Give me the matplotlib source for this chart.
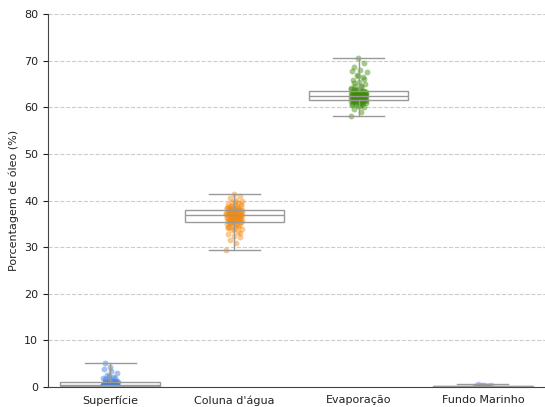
import numpy as np
import matplotlib
matplotlib.use("Agg")
import matplotlib.pyplot as plt

categories = ["Superfície", "Coluna d'água", "Evaporação", "Fundo Marinho"]
colors = ["#3b7bd9", "#f28a12", "#3b8b06", "#a070e8"]

superficie = [0.0, 0.05, 0.1, 0.1, 0.15, 0.2, 0.2, 0.25, 0.3, 0.3, 0.35, 0.4,
              0.45, 0.5, 0.5, 0.55, 0.6, 0.65, 0.7, 0.8, 0.9, 1.0, 1.1, 1.2,
              1.4, 1.6, 1.9, 2.2, 2.6, 3.0, 3.4, 5.2,
              0.05, 0.1, 0.2, 0.3, 0.4, 0.5, 0.6, 0.7, 0.9, 1.1, 1.3, 1.5,
              1.7, 2.0, 2.4, 0.15, 0.25, 0.35, 0.45, 4.2, 3.8,
              0.0, 0.0, 0.05, 0.1, 0.1, 0.2, 0.3, 0.4, 0.5, 0.6, 0.7, 0.75,
              0.15, 0.25, 0.35]
coluna = [29.4, 31.0, 31.6, 32.2, 32.5, 32.9, 33.3, 33.6, 33.8, 34.1, 34.3,
          34.5, 34.7, 34.9, 35.0, 35.2, 35.3, 35.5, 35.6, 35.7, 35.8, 35.9,
          36.0, 36.1, 36.2, 36.3, 36.4, 36.5, 36.6, 36.7, 36.8, 36.9, 37.0,
          37.0, 37.1, 37.2, 37.3, 37.4, 37.5, 37.6, 37.7, 37.8, 37.9, 38.0,
          38.1, 38.2, 38.3, 38.4, 38.5, 38.6, 38.8, 39.0, 39.2, 39.4, 39.6,
          39.9, 40.2, 40.6, 41.0, 41.5,
          34.2, 34.6, 35.1, 35.4, 35.6, 35.9, 36.0, 36.2, 36.3, 36.5, 36.6,
          36.8, 36.9, 37.1, 37.2, 37.3, 37.5, 37.6, 37.8, 37.9, 38.1, 38.3,
          38.6, 38.9, 39.3, 39.7, 35.3, 36.4, 36.7, 37.4, 37.7, 38.0, 33.1,
          33.9, 34.4, 35.8, 36.1, 37.0, 38.2, 38.7]
evaporacao = [58.2, 59.0, 59.6, 60.0, 60.3, 60.5, 60.7, 60.8, 60.9, 61.0,
              61.1, 61.2, 61.25, 61.3, 61.35,
              61.45, 61.5, 61.6, 61.65, 61.7, 61.8, 61.85, 61.9, 62.0, 62.05,
              62.1, 62.2, 62.25, 62.3, 62.35,
              62.45, 62.5, 62.6, 62.7, 62.75, 62.8, 62.9, 63.0, 63.05, 63.1,
              63.2, 63.25, 63.3, 63.4, 63.45,
              63.6, 63.8, 64.0, 64.3, 64.6, 65.0, 65.4, 65.9, 66.4, 67.0,
              67.5, 68.1, 68.6, 69.4, 70.6,
              60.6, 61.0, 61.2, 61.4, 61.5, 61.6, 61.75, 61.8, 61.9, 62.0,
              62.1, 62.15, 62.2, 62.3, 62.4, 62.4, 62.5, 62.55, 62.6, 62.7,
              62.8, 62.85, 62.9, 63.0, 63.1, 63.15, 63.3, 63.5, 63.7, 64.1,
              64.5, 65.2, 66.0, 66.8, 67.8, 61.3, 62.65, 62.95, 60.2, 63.9]
fundo = [0.0, 0.02, 0.04, 0.05, 0.06, 0.08, 0.08, 0.1, 0.1, 0.1, 0.12, 0.12,
         0.14, 0.15, 0.16, 0.18, 0.2, 0.22, 0.25, 0.3, 0.35, 0.42, 0.5, 0.57]

series = [superficie, coluna, evaporacao, fundo]
y_ticks = [0, 10, 20, 30, 40, 50, 60, 70, 80]

fig = plt.figure(figsize=(5.45, 4.07), dpi=100)
ax = fig.add_axes([0.088, 0.049, 0.912, 0.9165])

# jittered points under each box
for i, (vals, col) in enumerate(zip(series, colors)):
    n = len(vals)
    offs = (((np.arange(n) * 0.6180339) % 1.0) - 0.5) * 0.13
    ax.scatter(i + offs, vals, s=18, color=col, alpha=0.45,
               linewidths=0, zorder=2)

gray = "#999999"
ax.boxplot(series, positions=range(len(series)), widths=0.8, whis=(0, 100),
           showfliers=False, patch_artist=True,
           boxprops=dict(facecolor="none", edgecolor=gray, linewidth=1.0),
           medianprops=dict(color=gray, linewidth=1.0),
           whiskerprops=dict(color=gray, linewidth=1.0),
           capprops=dict(color=gray, linewidth=1.0),
           capwidths=0.41, zorder=3)

ax.set_xlim(-0.5, len(categories) - 0.5)
ax.set_ylim(0, 80)
ax.set_yticks(y_ticks)
ax.set_xticks(range(len(categories)))
ax.set_xticklabels(categories, fontsize=8, color="#222222")
ax.tick_params(axis="y", labelsize=8, colors="#222222")
ax.tick_params(axis="x", length=0, pad=6)
ax.set_ylabel("Porcentagem de óleo (%)", fontsize=8, color="#222222")

ax.yaxis.grid(True, linestyle="--", color="#cccccc", linewidth=0.8)
ax.set_axisbelow(True)
for side in ("top", "right"):
    ax.spines[side].set_visible(False)
for side in ("left", "bottom"):
    ax.spines[side].set_color("#444444")

fig.savefig("out.png", dpi=100)
